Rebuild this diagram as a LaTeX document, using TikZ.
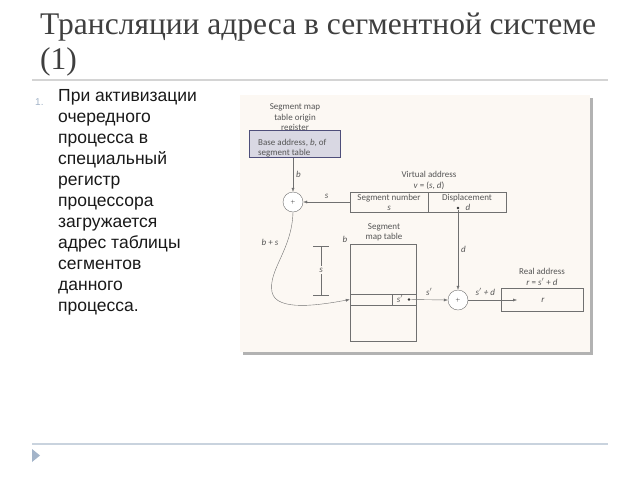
\documentclass[tikz,border=0pt]{standalone}
\usepackage{fontspec}
\setmainfont{Liberation Serif}
\setsansfont{Liberation Sans}
\newfontfamily\figfont{Carlito}
\definecolor{titlegray}{HTML}{3F3F3F}
\definecolor{rulegray}{HTML}{D4D4D4}
\definecolor{ruleblue}{HTML}{C9D3DE}
\definecolor{bulletblue}{HTML}{A3B4C9}
\definecolor{panelcol}{HTML}{FCF8F3}
\definecolor{figline}{HTML}{707070}
\definecolor{figtext}{HTML}{555555}
\definecolor{regfill}{HTML}{D9D8E3}
\definecolor{regdraw}{HTML}{4E4E7A}
\usetikzlibrary{arrows.meta,positioning}

\begin{document}
\begin{tikzpicture}[x=1pt,y=-1pt]
\tikzstyle{lbl}=[font=\figfont\fontsize{9}{10.5}\selectfont, text=figtext, inner sep=0pt]
\tikzstyle{ilbl}=[font=\figfont\itshape\fontsize{9}{10.5}\selectfont, text=figtext, inner sep=0pt]
\tikzstyle{adder}=[circle, minimum size=20pt, inner sep=0pt, draw=figline, fill=white, thin]
\tikzstyle{field}=[rectangle, draw=figline, thin]
\tikzstyle{connect}=[-{Latex[length=4pt,width=3pt]}, figline, thin]
\tikzstyle{dotmark}=[circle, fill=black!80, minimum size=2.6pt, inner sep=0pt]
\useasboundingbox (0,0) rectangle (640,480);
\fill[white] (0,0) rectangle (640,480);

	% title and rules
	\node[anchor=base west, font=\fontsize{31.5}{36}\selectfont, text=titlegray, inner sep=0pt] (title1) at (40,34) {Трансляции адреса в сегментной системе};
	\node[anchor=base west, font=\fontsize{31.5}{36}\selectfont, text=titlegray, inner sep=0pt] (title2) at (40,69) {(1)};
	\draw[rulegray, line width=2pt] (32,80) -- (608,80);
	\draw[ruleblue, line width=1.5pt] (32,444) -- (608,444);
	\fill[bulletblue] (32,449) -- (40,455.5) -- (32,462) -- cycle;

	% list
	\node[anchor=base west, font=\sffamily\fontsize{10}{12}\selectfont, text=bulletblue, inner sep=0pt] (num1) at (35,105) {1.};
	\node[anchor=north west, align=left, font=\sffamily\fontsize{17.5}{21}\selectfont, text=black!90, inner sep=0pt] (item1) at (58,89.5) {При активизации\\очередного\\процесса в\\специальный\\регистр\\процессора\\загружается\\адрес таблицы\\сегментов\\данного\\процесса.};

	% picture panel
	\fill[black!30] (243,98) rectangle (593,355);
	\fill[panelcol] (240,95) rectangle (590,352);

	% register
	\node[lbl, align=center] (regname) at (295,118) {Segment map\\table origin\\register};
	\node[field, fill=regfill, draw=regdraw, line width=1pt, minimum width=91pt, minimum height=27pt] (reg) at (294.5,143.5) {};
	\node[lbl, align=left, anchor=west] (regtext) at (258,148) {Base address, \textit{b}, of\\segment table};

	\node[adder] (plus1) at (293,202) {\tiny$+$};
	\node[adder] (plus2) at (458,300) {\tiny$+$};

	% virtual address
	\node[field, minimum width=78pt, minimum height=20pt] (segnum) at (389,202) {};
	\node[field, minimum width=78pt, minimum height=20pt] (displ) at (467,202) {};
	\node[lbl, align=center] (segnumtext) at (389,202.5) {Segment number\\\textit{s}};
	\node[lbl] (displtext) at (467,198) {Displacement};
	\node[ilbl] (dtext) at (468,207) {d};
	\node[dotmark] (ddot) at (458,208) {};
	\node[lbl, align=center] (vaddr) at (429,180.5) {Virtual address\\\textit{v} = (\textit{s}, \textit{d})};

	% segment map table
	\node[field, minimum width=66pt, minimum height=97pt] (table) at (383,292.5) {};
	\node[field, minimum width=66pt, minimum height=11pt] (row) at (383,299.5) {};
	\node[field, minimum width=24pt, minimum height=11pt] (entry) at (404,299.5) {};
	\node[ilbl] (entrytext) at (400,299) {s$'$};
	\node[dotmark] (sdot) at (409,299.5) {};
	\node[lbl, align=center] (tabname) at (384,232.5) {Segment\\map table};
	\node[ilbl] (tabb) at (345,239) {b};

	% offset bracket
	\coordinate (brtop) at (321,246);
	\coordinate (brbot) at (321,295);
	\draw[figline, thin] (brtop) -- (brbot);
	\draw[figline, thin] (313,246) -- (329,246);
	\draw[figline, thin] (313,295) -- (329,295);
	\node[ilbl, fill=panelcol, inner sep=1.5pt] (brs) at (321,270) {s};

	% real address
	\node[field, minimum width=82pt, minimum height=23pt] (real) at (542,299.5) {};
	\node[ilbl] (rtext) at (543,300) {r};
	\node[lbl] (raddr) at (542,271.5) {Real address};
	\node[lbl] (rformula) at (542,282) {\textit{r} = \textit{s}$'$ + \textit{d}};
	\coordinate (realin) at (517,300);

	% connectors
	\draw[connect] (reg.south -| plus1) -- (plus1.north) node[ilbl, midway, right=3pt] {b};
	\draw[connect] (segnum.west) -- (plus1.east) node[ilbl, midway, above=3pt] {s};
	\draw[connect] (ddot) -- (plus2.north) node[ilbl, pos=0.5, right=3pt] {d};
	\draw[connect] (sdot) -- (plus2.west) node[ilbl, midway, above=4pt] {s$'$};
	\draw[connect] (plus2.east) -- (realin) node[ilbl, pos=0.35, above=4pt] {s$'$ + d};
	\draw[connect] (plus1.south) .. controls (292,250) and (268,270) .. (272,292) .. controls (276,312) and (320,305) .. (row.west);
	\node[ilbl] (bs) at (270,242) {b + s};

\end{tikzpicture}
\end{document}
